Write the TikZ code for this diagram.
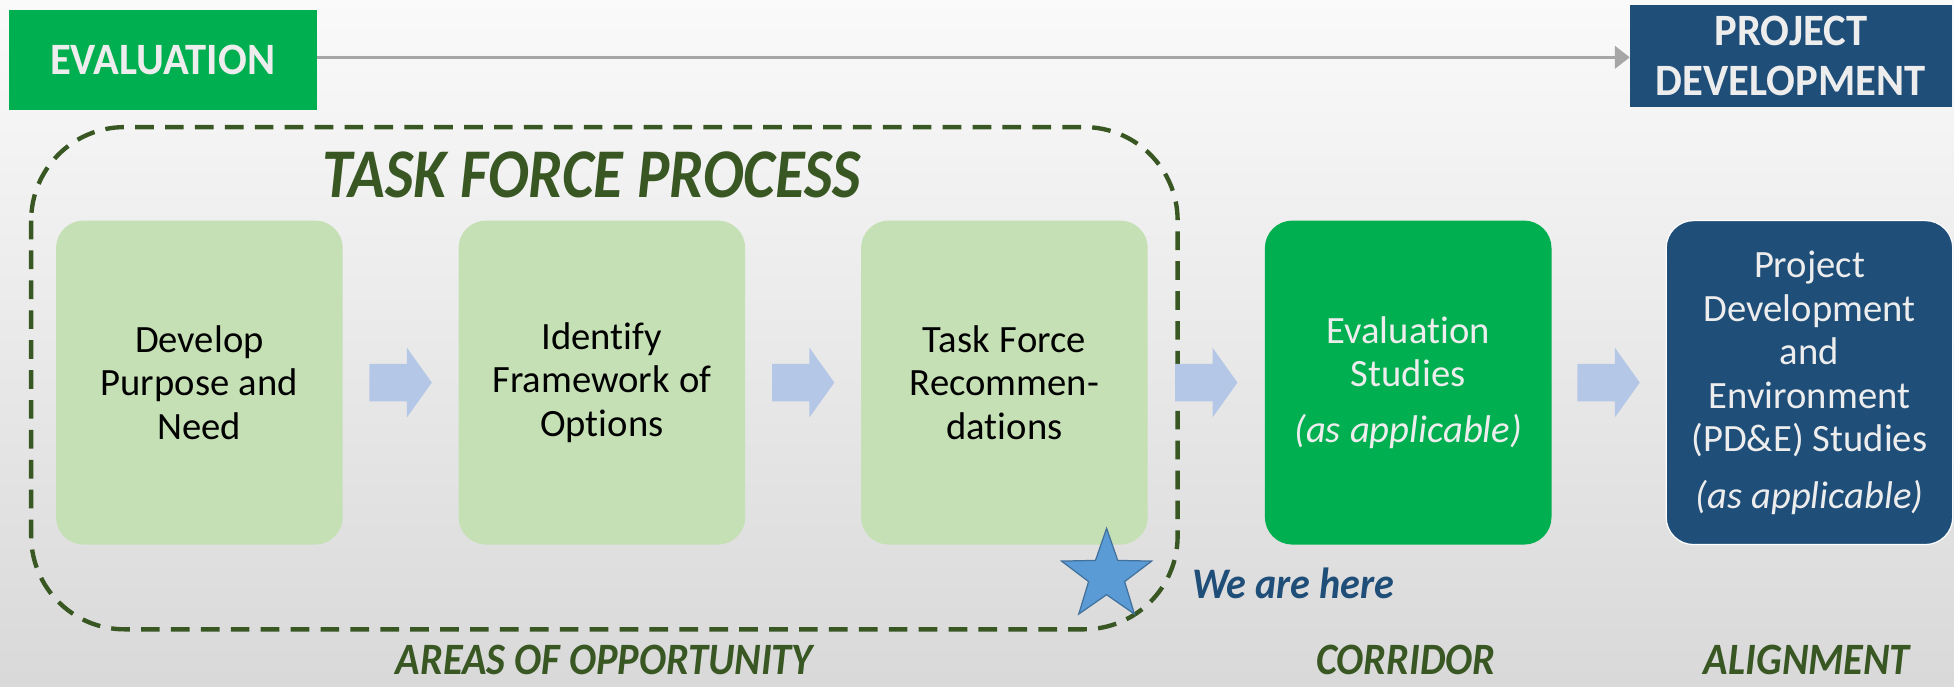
\documentclass[tikz,border=0pt]{standalone}
\usepackage{fontspec}
\setmainfont{Carlito}[Ligatures=NoCommon]
\usetikzlibrary{shapes.geometric,arrows.meta}
\definecolor{evgreen}{HTML}{00B050}
\definecolor{pdblue}{HTML}{1F4E79}
\definecolor{lgreen}{HTML}{C5E0B4}
\definecolor{dgreen}{HTML}{385723}
\definecolor{lblue}{HTML}{B4C7E7}
\definecolor{starfill}{HTML}{5B9BD5}
\definecolor{starline}{HTML}{41719C}
\definecolor{offwhite}{HTML}{EDEDED}
\definecolor{arrowgray}{HTML}{A6A6A6}
\newcommand{\tightsp}{\spaceskip=0.22em plus 0.05em\relax\xspaceskip=0.22em\relax}
\tikzset{
  stagebox/.style={rounded corners=22pt, minimum width=230pt, minimum height=260pt,
    align=center, text width=226pt, font=\fontsize{31}{35}\selectfont, inner sep=0pt},
  taskbox/.style={stagebox, fill=lgreen, text=black},
  evalbox/.style={stagebox, fill=evgreen, text=offwhite},
  pdbox/.style={stagebox, fill=pdblue, text=offwhite, draw=white, line width=1pt},
  header/.style={font=\bfseries\fontsize{36}{40}\selectfont, text=offwhite, align=center, inner sep=0pt},
  phase/.style={font=\bfseries\itshape\fontsize{36}{40}\selectfont, text=dgreen, anchor=base, inner sep=0pt},
  blockarrow/.style={fill=lblue}
}
\newcommand{\narrow}[2]{\scalebox{#1}[1]{#2}}
\begin{document}
\begin{tikzpicture}[x=1pt,y=-1pt]
\useasboundingbox (0,0) rectangle (1568,550.5);
\shade[top color=white!98!black, bottom color=white!85!black] (0,0) rectangle (1568,550.5);

% header boxes
\node[header, fill=evgreen, minimum width=247pt, minimum height=80pt] (evalhdr) at (130.5,48) {\narrow{0.95}{EVALUATION}};
\node[header, fill=pdblue, minimum width=258pt, minimum height=82pt] (pdhdr) at (1437,45) {\narrow{0.95}{PROJECT}\\\narrow{0.95}{DEVELOPMENT}};
\draw[arrowgray, line width=2.5pt, -{Triangle[length=12pt,width=18pt]}] (evalhdr.east |- 0,46) -- (pdhdr.west |- 0,46);

% dashed task force frame
\draw[dgreen, line width=3.5pt, dash pattern=on 15pt off 9pt, rounded corners=75pt] (25,102) rectangle (945,505);
\node[font=\bfseries\itshape\fontsize{56}{60}\selectfont, text=dgreen] (tfp) at (475,140) {\narrow{0.87}{TASK FORCE PROCESS}};

% stage boxes
\node[taskbox] (b1) at (160,307) {\tightsp Develop\\Purpose and\\Need};
\node[taskbox] (b2) at (483,307) {\tightsp Identify\\Framework of\\Options};
\node[taskbox] (b3) at (806,307) {\tightsp Task Force\\Recommen-\\dations};
\node[evalbox] (b4) at (1130,307) {\tightsp Evaluation\\Studies\\[10pt]\textit{(as applicable)}};
\node[pdbox] (b5) at (1452,307) {\tightsp Project\\Development\\and\\Environment\\(PD\&E) Studies\\[10pt]\textit{(as applicable)}};

% block arrows
\foreach \a/\b in {b1/b2,b2/b3,b3/b4,b4/b5}{
  \path (\a.east) -- (\b.west) coordinate[midway] (m);
  \fill[blockarrow] ([shift={(-25,-15)}]m) -- ([shift={(5,-15)}]m) -- ([shift={(5,-28)}]m)
     -- ([shift={(25,0)}]m) -- ([shift={(5,28)}]m) -- ([shift={(5,15)}]m) -- ([shift={(-25,15)}]m) -- cycle;
}

% star and label
\node[star, star points=5, star point ratio=2.5, minimum size=76pt, inner sep=0pt, fill=starfill, draw=starline, line width=1pt] (star) at (888,462) {};
\node[font=\bfseries\itshape\fontsize{35}{40}\selectfont, text=pdblue, anchor=west] (here) at (953,468) {\narrow{0.92}{We are here}};

% phase labels
\node[phase] (areas) at (485,541) {\narrow{0.9}{AREAS OF OPPORTUNITY}};
\node[phase] (corr) at (1128,541) {\narrow{0.9}{CORRIDOR}};
\node[phase] (align) at (1450,541) {\narrow{0.9}{ALIGNMENT}};
\end{tikzpicture}
\end{document}
